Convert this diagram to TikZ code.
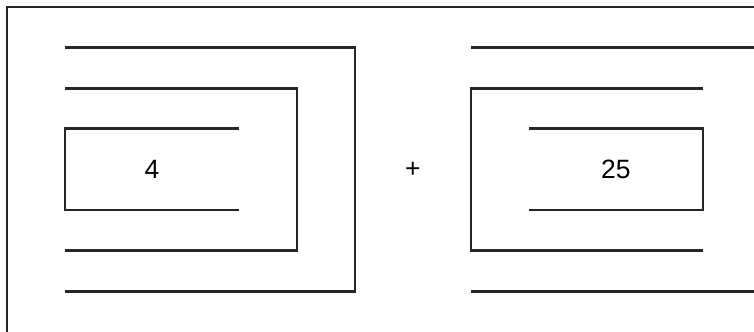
\documentclass[tikz,border=0pt]{standalone}
\usepackage{fontspec}
\setmainfont{Liberation Sans}
\usetikzlibrary{positioning}

\begin{document}
\begin{tikzpicture}[x=1cm,y=-0.7cm,wall/.style={line width=1.4pt,black!85},num/.style={font=\fontsize{13}{15}\selectfont}]
	\useasboundingbox (0cm,0cm) rectangle (13cm,-5.707cm);
	\begin{scope}[shift={(0.12cm,-0.12cm)}]
		% outer frame
		\draw[wall] (12.9,0) -- (0,0) -- (0,8);
		% left spiral
		\draw[wall] (1,1) -- (6,1) -- (6,7) -- (1,7);
		\draw[wall] (1,2) -- (5,2) -- (5,6) -- (1,6);
		\draw[wall] (4,3) -- (1,3) -- (1,5) -- (4,5);
		\node[num](A) at (2.5,4){4};
		\node[num](P) at (7,4){+};
		% right spiral
		\draw[wall] (8,1) -- (12.9,1);
		\draw[wall] (12,2) -- (8,2) -- (8,6) -- (12,6);
		\draw[wall] (9,3) -- (12,3) -- (12,5) -- (9,5);
		\draw[wall] (8,7) -- (12.9,7);
		\node[num](B) at (10.5,4){25};
	\end{scope}
\end{tikzpicture}
\end{document}
